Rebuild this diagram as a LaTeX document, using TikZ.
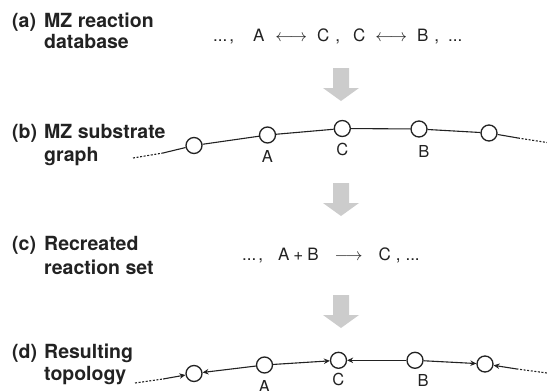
\documentclass[tikz,border=0pt]{standalone}
\usepackage{fontspec}
\setmainfont{TeX Gyre Heros}
\usetikzlibrary{arrows.meta}
\definecolor{ink}{HTML}{222222}
\definecolor{arrowgray}{HTML}{CCCCCC}
\tikzset{
  vtx/.style={circle, draw=ink, line width=1.3pt, fill=white, minimum size=16pt, inner sep=0pt},
  edge/.style={draw=ink, line width=1.1pt},
  dots/.style={draw=ink, line width=1.1pt, dash pattern=on 2pt off 1.6pt},
  dirtip/.style={-{Stealth[length=6pt,width=5.5pt]}},
  panel/.style={font=\fontsize{19.5}{22}\selectfont\bfseries, text=ink, inner sep=0pt, anchor=base west},
  chem/.style={font=\fontsize{17}{20}\selectfont, text=ink, inner sep=0pt, anchor=base west},
  vlab/.style={font=\fontsize{16.5}{19}\selectfont, text=ink, inner sep=0pt, anchor=base},
  bigarrow/.pic={\fill[arrowgray] (-8,0) -- (-8,20) -- (-18,20) -- (0,33) -- (18,20) -- (8,20) -- (8,0) -- cycle;}
}
\begin{document}
\begin{tikzpicture}[x=1pt, y=-1pt]
\useasboundingbox (0,0) rectangle (547,391);

% (a) reaction database
\node[panel] (atag) at (12,27) {(a)};
\node[panel] (alab1) at (44,27) {MZ reaction};
\node[panel] (alab2) at (44,48) {database};
\node[chem] (areac) at (213,41.7) {...\hspace{2pt},\hspace{19pt}A\hspace{11pt}$\longleftrightarrow$\hspace{10pt}C\hspace{6pt},\hspace{13pt}C\hspace{10pt}$\longleftrightarrow$\hspace{10pt}B\hspace{6pt},\hspace{9pt}...};

\pic at (341,68) {bigarrow};

% (b) substrate graph
\node[panel] (btag) at (12,138) {(b)};
\node[panel] (blab1) at (44,138) {MZ substrate};
\node[panel] (blab2) at (44,161) {graph};

\coordinate (bL0) at (133,158);
\coordinate (bL1) at (163,153);
\coordinate (bR1) at (518,138);
\coordinate (bR0) at (547,142.5);
\node[vtx] (b1) at (194,145.5) {};
\node[vtx] (bA) at (267.5,135) {};
\node[vtx] (bC) at (342.3,128.5) {};
\node[vtx] (bB) at (419,129) {};
\node[vtx] (b5) at (489,133) {};
\draw[dots] (bL0) -- (bL1);
\draw[edge] (bL1) -- (b1);
\draw[edge] (b1) -- (bA);
\draw[edge] (bA) -- (bC);
\draw[edge] (bC) -- (bB);
\draw[edge] (bB) -- (b5);
\draw[edge] (b5) -- (bR1);
\draw[dots] (bR1) -- (bR0);
\node[vlab] (bAl) at (267.5,162.7) {A};
\node[vlab] (bCl) at (342.3,155.7) {C};
\node[vlab] (bBl) at (424,157) {B};

\pic at (341,183) {bigarrow};

% (c) recreated reaction set
\node[panel] (ctag) at (12,250.6) {(c)};
\node[panel] (clab1) at (44,250.6) {Recreated};
\node[panel] (clab2) at (44,274) {reaction set};
\node[chem] (creac) at (242,260) {...\hspace{2pt},\hspace{15pt}A\hspace{4pt}+\hspace{4pt}B\hspace{16pt}$\longrightarrow$\hspace{16pt}C\hspace{5pt},\hspace{5pt}...};

\pic at (341,295) {bigarrow};

% (d) resulting topology
\node[panel] (dtag) at (12,358.6) {(d)};
\node[panel] (dlab1) at (44,358.6) {Resulting};
\node[panel] (dlab2) at (44,380) {topology};

\coordinate (dL0) at (135,383);
\coordinate (dL1) at (163,379);
\coordinate (dR1) at (517,369);
\coordinate (dR0) at (547,373);
\node[vtx] (d1) at (194,373.5) {};
\node[vtx] (dA) at (264.5,365) {};
\node[vtx] (dC) at (338.5,360.3) {};
\node[vtx] (dB) at (415,360.3) {};
\node[vtx] (d5) at (485,364) {};
\draw[dots] (dL0) -- (dL1);
\draw[edge, dirtip] (dL1) -- (d1);
\draw[edge, dirtip] (dA) -- (d1);
\draw[edge, dirtip] (dA) -- (dC);
\draw[edge, dirtip] (dB) -- (dC);
\draw[edge, dirtip] (dB) -- (d5);
\draw[dots] (dR0) -- (dR1);
\draw[edge, dirtip] (dR1) -- (d5);
\node[vlab] (dAl) at (264.5,392) {A};
\node[vlab] (dCl) at (338.3,385) {C};
\node[vlab] (dBl) at (423,386) {B};
\end{tikzpicture}
\end{document}
